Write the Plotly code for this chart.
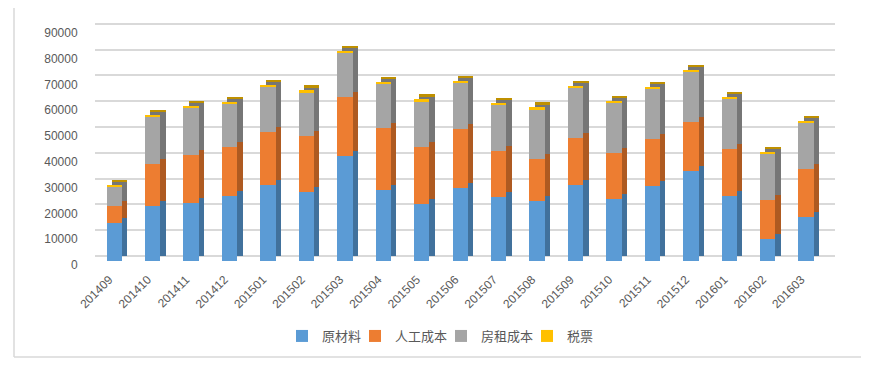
import plotly.graph_objects as go

months = ["201409", "201410", "201411", "201412", "201501", "201502", "201503",
          "201504", "201505", "201506", "201507", "201508", "201509", "201510",
          "201511", "201512", "201601", "201602", "201603"]
raw_material = [14600, 21300, 22400, 25300, 29300, 26900, 40700, 27500, 22000, 28200,
                24900, 23100, 29500, 23900, 28900, 34900, 25300, 8600, 17100]
labor_cost = [6800, 16400, 18800, 18900, 20800, 21400, 22700, 24100, 22100, 23000,
              17900, 16400, 18300, 18100, 18400, 19000, 18200, 15200, 18600]
rent_cost = [7400, 18000, 18100, 16900, 17200, 17100, 17300, 17000, 17900, 17900,
             17800, 19400, 19400, 19400, 19400, 19500, 19400, 17700, 17800]
tax = [700, 800, 800, 700, 800, 700, 800, 800, 700, 800,
       700, 700, 800, 700, 800, 800, 700, 800, 800]
series_names = ["原材料", "人工成本", "房租成本", "税票"]
y_ticks = [0, 10000, 20000, 30000, 40000, 50000, 60000, 70000, 80000, 90000]

front_colors = ["#5b9bd5", "#ed7d31", "#a5a5a5", "#ffc000"]
side_colors = ["#41719c", "#ae5a21", "#767676", "#bf9000"]
series_values = [raw_material, labor_cost, rent_cost, tax]

# page body has an 8px margin, so the figure is drawn 8px right/down
OFF = 8
W, H = 869 - 2 * OFF, 367 - 2 * OFF
L, R, T, B = 95 - OFF, W - (835 - OFF), 15 - OFF, H - (261 - OFF)
plot_w = W - L - R
plot_h = H - T - B
n_slots = len(months) + 0.25
px_per_cat = plot_w / n_slots
px_per_val = 25.8 / 10000
y_top = plot_h / px_per_val
dx = 5.3 / px_per_cat
dy = 5.0 / px_per_val


def px_x(win_x):
    return (win_x - OFF - L) / plot_w


def px_y(win_y):
    return (H - (win_y - OFF) - B) / plot_h


FONT = "Liberation Sans, Noto Sans CJK SC, sans-serif"
legend_ids = ["legend", "legend2", "legend3", "legend4"]
legend_left = [296, 369, 455, 541]  # window x of each legend swatch

fig = go.Figure()
# depth (side/top faces) drawn behind, on shifted axes
for name, vals, col in zip(series_names, series_values, side_colors):
    fig.add_trace(go.Bar(x=months, y=vals, name=name, marker_color=col,
                         marker_line_width=0, width=0.4, showlegend=False,
                         hoverinfo="skip", xaxis="x", yaxis="y"))
# front faces
for name, vals, col, lg in zip(series_names, series_values, front_colors, legend_ids):
    fig.add_trace(go.Bar(x=months, y=vals, name=name, marker_color=col,
                         marker_line_width=0, width=0.4, legend=lg,
                         xaxis="x2", yaxis="y2"))

legends = {}
for lg, sx in zip(legend_ids, legend_left):
    legends[lg] = dict(orientation="h", x=px_x(sx - 14), xanchor="left",
                       y=px_y(336), yanchor="middle", xref="paper", yref="paper",
                       font=dict(size=13, color="#595959"), itemwidth=30,
                       bgcolor="rgba(0,0,0,0)")

fig.update_layout(
    width=W, height=H,
    margin=dict(l=L, r=R, t=T, b=B, pad=0),
    paper_bgcolor="white", plot_bgcolor="rgba(0,0,0,0)",
    barmode="stack",
    font=dict(family=FONT, color="#595959"),
    xaxis=dict(range=[-0.5 - dx, len(months) - 0.25 - dx], visible=False,
               showgrid=False),
    yaxis=dict(range=[-dy, y_top - dy], tickvals=y_ticks, showticklabels=False,
               showgrid=True, gridcolor="#d9d9d9", gridwidth=1.5,
               zeroline=False, showline=False),
    xaxis2=dict(overlaying="x", anchor="y2", range=[-0.5, len(months) - 0.25],
                tickangle=-45, tickfont=dict(size=12, color="#595959"),
                ticks="outside", ticklen=6, tickcolor="rgba(0,0,0,0)",
                ticklabelshift=-5,
                showgrid=False, showline=False, zeroline=False),
    yaxis2=dict(overlaying="y", anchor="x2", side="left", range=[0, y_top],
                tickvals=y_ticks, tickformat="d",
                tickfont=dict(size=12, color="#595959"),
                ticks="outside", ticklen=14, tickcolor="rgba(0,0,0,0)",
                ticklabelshift=4,
                showgrid=False, zeroline=False, showline=False),
    shapes=[
        dict(type="line", xref="paper", yref="paper",
             x0=px_x(14), x1=px_x(14), y0=px_y(357), y1=px_y(OFF),
             line=dict(color="#d9d9d9", width=1.5)),
        dict(type="line", xref="paper", yref="paper",
             x0=px_x(14), x1=px_x(869), y0=px_y(357), y1=px_y(357),
             line=dict(color="#d9d9d9", width=1.5)),
    ],
    **legends,
)

fig.write_html("out.html")
